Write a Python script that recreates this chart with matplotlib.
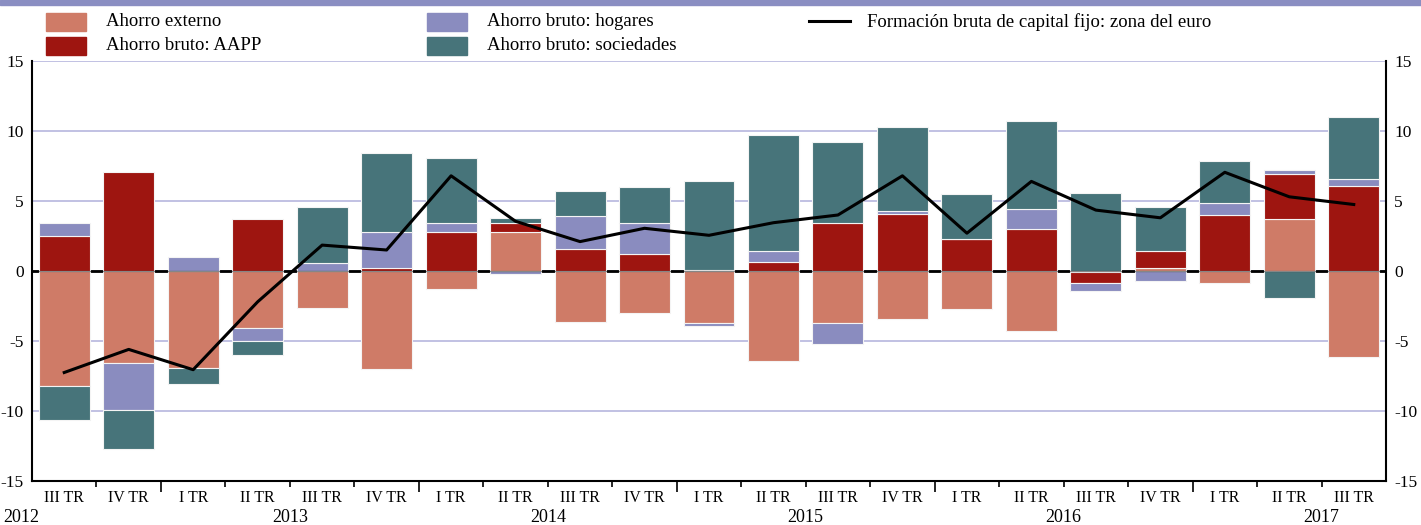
import numpy as np
import matplotlib.pyplot as plt
import matplotlib.transforms as mtransforms
from matplotlib.patches import Rectangle
from matplotlib.lines import Line2D

plt.rcParams['font.family'] = ['Liberation Serif', 'DejaVu Serif']
plt.rcParams['axes.unicode_minus'] = False

# datos (porcentaje)
trimestres = ['III TR', 'IV TR',
              'I TR', 'II TR', 'III TR', 'IV TR',
              'I TR', 'II TR', 'III TR', 'IV TR',
              'I TR', 'II TR', 'III TR', 'IV TR',
              'I TR', 'II TR', 'III TR', 'IV TR',
              'I TR', 'II TR', 'III TR']
anios = ['2012', '2013', '2014', '2015', '2016', '2017']

ahorro_externo = [-8.2, -6.6, -6.95, -4.1, -2.65, -7.0, -1.3, 2.8, -3.65, -3.0, -3.7,
                  -6.45, -3.7, -3.45, -2.7, -4.3, -0.1, 0.25, -0.85, 3.7, -6.15]
ahorro_aapp = [2.5, 7.05, 0.0, 3.7, 0.0, 0.25, 2.8, 0.6, 1.55, 1.25, 0.1,
               0.65, 3.45, 4.1, 2.3, 3.0, -0.75, 1.2, 4.0, 3.25, 6.1]
ahorro_hogares = [0.9, -3.3, 1.0, -0.9, 0.6, 2.55, 0.6, -0.2, 2.4, 2.15, -0.25,
                  0.75, -1.5, 0.2, 0.0, 1.4, -0.55, -0.7, 0.85, 0.25, 0.45]
ahorro_sociedades = [-2.45, -2.8, -1.1, -1.0, 3.95, 5.6, 4.7, 0.35, 1.8, 2.6, 6.3,
                     8.3, 5.75, 6.0, 3.2, 6.3, 5.6, 3.1, 3.0, -1.95, 4.45]
fbcf_euro = [-7.25, -5.6, -7.05, -2.2, 1.85, 1.5, 6.8, 3.55, 2.1, 3.05, 2.55,
             3.45, 4.0, 6.8, 2.7, 6.4, 4.35, 3.8, 7.05, 5.3, 4.75]

c_ext = '#cf7b67'
c_aapp = '#9e1510'
c_hog = '#8a8cbf'
c_soc = '#47747a'

W, H = 1421, 525
fig = plt.figure(figsize=(W / 100, H / 100), dpi=100)
ax = fig.add_axes([32 / W, 44 / H, 1354 / W, 420 / H])

# franja superior
fig.patches.append(Rectangle((0, 1 - 5 / H), 1, 5 / H, transform=fig.transFigure,
                             color='#8a8ec2', zorder=0))

x = np.arange(len(trimestres))
pos = np.zeros(len(x))
neg = np.zeros(len(x))
for vals, col in [(ahorro_externo, c_ext), (ahorro_aapp, c_aapp),
                  (ahorro_hogares, c_hog), (ahorro_sociedades, c_soc)]:
    v = np.array(vals)
    base = np.where(v >= 0, pos, neg)
    ax.bar(x, v, 0.79, bottom=base, color=col, edgecolor='#f4f4f4', linewidth=0.8, zorder=2)
    pos += np.where(v > 0, v, 0)
    neg += np.where(v < 0, v, 0)

ax.axhline(0, color='black', lw=2, zorder=1.5)
ax.axhline(0, color='black', lw=1, alpha=0.45, zorder=3)
ax.plot(x, fbcf_euro, color='black', lw=2.2, zorder=4)

ax.set_xlim(-0.5, len(x) - 0.5)
ax.set_ylim(-15, 15)
ax.set_yticks(range(-15, 16, 5))
ax.yaxis.grid(True, color='#b6b6de', lw=1.2)
ax.set_axisbelow(True)
ax.tick_params(axis='y', length=0, labelsize=12.5, pad=6,
               labelleft=True, labelright=True)

for s in ['left', 'right', 'bottom']:
    ax.spines[s].set_color('black')
    ax.spines[s].set_linewidth(1.5)
ax.spines['top'].set_visible(False)

# marcas del eje x: limites de trimestre y de anio
limites = np.arange(0.5, len(x) - 1, 1.0)
anuales = [b for b in limites if int(b - 1.5) % 4 == 0 and b >= 1.5]
ax.set_xticks(anuales)
ax.set_xticks([b for b in limites if b not in anuales], minor=True)
ax.tick_params(axis='x', which='major', length=8, width=1.2, labelbottom=False)
ax.tick_params(axis='x', which='minor', length=4, width=1.2)

trans = mtransforms.blended_transform_factory(ax.transData, fig.transFigure)
for xi, t in zip(x, trimestres):
    ax.text(xi, 1 - 498 / H, t, transform=trans, ha='center', va='center', fontsize=11.5)
pos_anios = [-0.66, 3.5, 7.5, 11.5, 15.5, 19.5]
for xa, a in zip(pos_anios, anios):
    ax.text(xa, 1 - 518 / H, a, transform=trans, ha='center', va='center',
            fontsize=13, clip_on=False)

# leyenda
def caja(x0, yc, col):
    fig.patches.append(Rectangle((x0 / W, 1 - (yc + 8.5) / H), 40 / W, 17 / H,
                                 transform=fig.transFigure, color=col))

leyenda = [(46, 22, c_ext, 'Ahorro externo'),
           (46, 46, c_aapp, 'Ahorro bruto: AAPP'),
           (427, 22, c_hog, 'Ahorro bruto: hogares'),
           (427, 46, c_soc, 'Ahorro bruto: sociedades')]
for x0, yc, col, lab in leyenda:
    caja(x0, yc, col)
    fig.text((x0 + 60) / W, 1 - yc / H, lab, va='center', fontsize=13.5)

fig.lines.append(Line2D([809 / W, 850 / W], [1 - 21 / H, 1 - 21 / H],
                        transform=fig.transFigure, color='black', lw=2.2))
fig.text(867 / W, 1 - 22 / H, 'Formación bruta de capital fijo: zona del euro',
         va='center', fontsize=13.5)

fig.savefig('out.png', dpi=100)
